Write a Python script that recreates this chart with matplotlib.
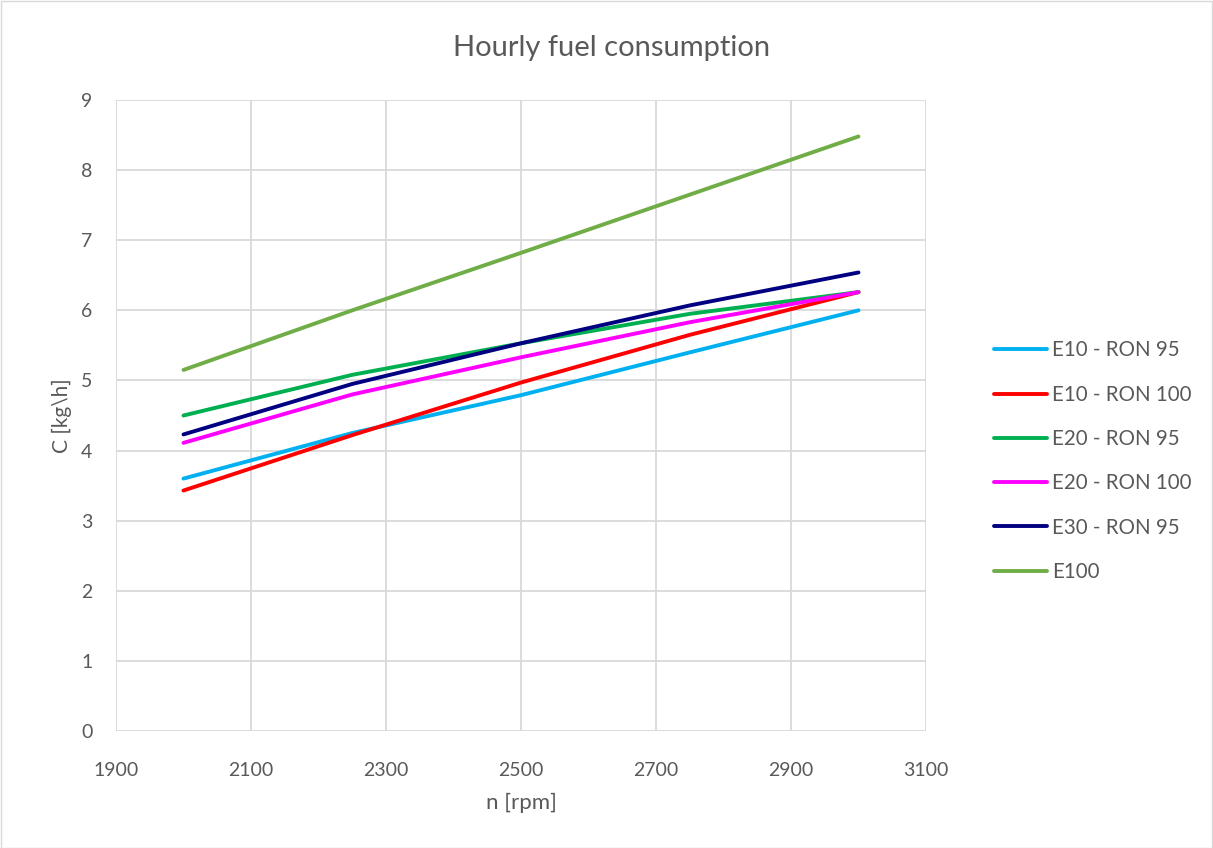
import matplotlib
matplotlib.use("Agg")
import matplotlib.pyplot as plt
from matplotlib.patches import Rectangle

# Engine speed [rpm]
rpm = [2000, 2250, 2500, 2750, 3000]

# Hourly fuel consumption [kg/h] per fuel blend
e10_ron95 = [3.60, 4.25, 4.79, 5.40, 6.00]
e10_ron100 = [3.43, 4.22, 4.97, 5.65, 6.26]
e20_ron95 = [4.50, 5.08, 5.53, 5.95, 6.26]
e20_ron100 = [4.11, 4.80, 5.33, 5.83, 6.26]
e30_ron95 = [4.23, 4.95, 5.53, 6.07, 6.54]
e100 = [5.15, 6.00, 6.82, 7.65, 8.48]

series_names = ["E10 - RON 95", "E10 - RON 100", "E20 - RON 95",
                "E20 - RON 100", "E30 - RON 95", "E100"]
series_values = [e10_ron95, e10_ron100, e20_ron95, e20_ron100, e30_ron95, e100]
series_colors = ["#00B0F0", "#FF0000", "#00B050", "#FF00FF", "#000080", "#70AD47"]

x_ticks = [1900, 2100, 2300, 2500, 2700, 2900, 3100]
y_ticks = [0, 1, 2, 3, 4, 5, 6, 7, 8, 9]

text_color = "#595959"
grid_color = "#D9D9D9"
plt.rcParams["font.family"] = ["Lato", "DejaVu Sans"]

W, H = 1213, 848
fig = plt.figure(figsize=(W / 100, H / 100), dpi=100)
ax = fig.add_axes([116 / W, 1 - 731 / H, (926 - 116) / W, (731 - 100) / H])

for name, vals, col in zip(series_names, series_values, series_colors):
    ax.plot(rpm, vals, color=col, lw=2.8, label=name,
            solid_capstyle="round", solid_joinstyle="round", zorder=3)

ax.set_xlim(1900, 3100)
ax.set_ylim(0, 9)
ax.set_xticks(x_ticks)
ax.set_yticks(y_ticks)
ax.grid(True, color=grid_color, lw=1.3, zorder=0)
ax.set_axisbelow(True)
for s in ax.spines.values():
    s.set_visible(False)
ax.tick_params(axis="both", length=0, colors=text_color, labelsize=14)
ax.tick_params(axis="x", pad=22)
ax.tick_params(axis="y", pad=17)

fig.text(612 / W, 1 - 48 / H, "Hourly fuel consumption", ha="center", va="center",
         fontsize=21, color=text_color)
fig.text(521 / W, 1 - 803 / H, "n [rpm]", ha="center", va="center",
         fontsize=16, color=text_color)
fig.text(62 / W, 1 - 416 / H, "C [kg\\h]", ha="center", va="center",
         rotation=90, fontsize=15, color=text_color)

fig.legend(loc="upper left", bbox_to_anchor=(975 / W, 1 - 322 / H),
           frameon=False, fontsize=14.8, labelcolor=text_color,
           handlelength=2.6, handletextpad=0.25, labelspacing=1.18)

fig.patches.append(Rectangle((0.5 / W, 0.5 / H), 1 - 1.5 / W, 1 - 1.5 / H,
                             transform=fig.transFigure, fill=False,
                             edgecolor=grid_color, lw=1.0))

fig.savefig("out.png", dpi=100, facecolor="white")
